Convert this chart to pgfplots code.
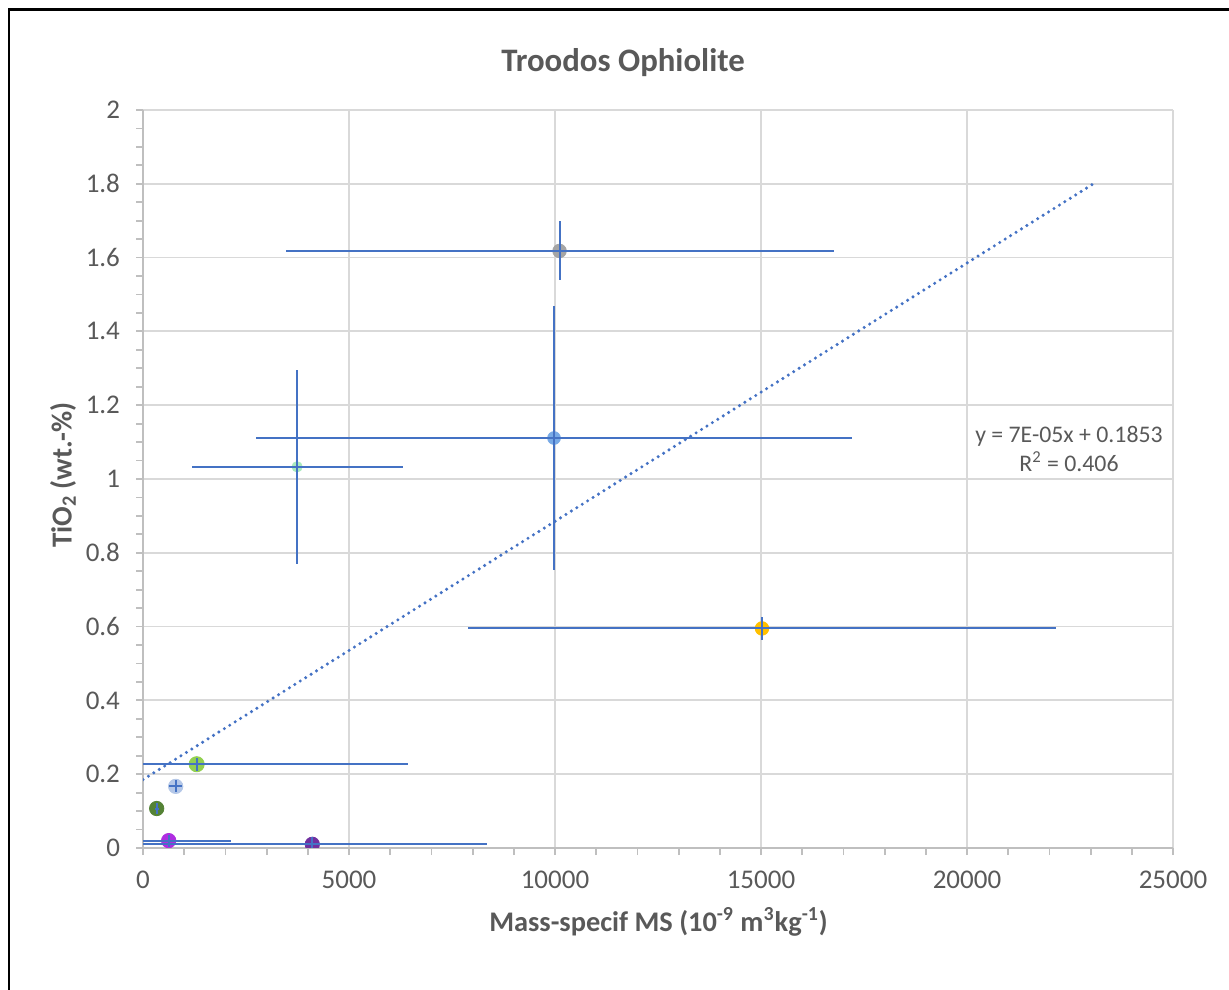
\documentclass[border=0pt]{standalone}
\usepackage{fontspec}
\setmainfont{Carlito}
\usepackage{pgfplots}
\pgfplotsset{compat=1.18}
\definecolor{txt}{RGB}{89,89,89}
\definecolor{gridc}{RGB}{217,217,217}
\definecolor{axc}{RGB}{191,191,191}
\definecolor{ebar}{RGB}{68,114,196}
\definecolor{cgrey}{RGB}{165,165,165}
\definecolor{clblue}{RGB}{120,170,230}
\definecolor{cpale}{RGB}{170,235,190}
\definecolor{cyellow}{RGB}{255,192,0}
\definecolor{clime}{RGB}{146,208,80}
\definecolor{csteel}{RGB}{180,199,231}
\definecolor{cdgreen}{RGB}{84,130,53}
\definecolor{cpurple}{RGB}{175,45,225}
\definecolor{cindigo}{RGB}{112,48,160}
\begin{document}
\begin{tikzpicture}
\useasboundingbox (0pt,0pt) rectangle (614.5pt,494.5pt);
\draw[line width=1.4pt] (4.5pt,-10pt) -- (4.5pt,489.8pt) -- (630pt,489.8pt);
\begin{axis}[
  at={(71.5pt,70.5pt)}, anchor=south west,
  scale only axis, width=515pt, height=369pt,
  xmin=0, xmax=25000, ymin=0, ymax=2,
  clip marker paths=true,
  xtick={0,5000,...,25000}, ytick={0,0.2,...,2.01},
  minor x tick num=4, minor y tick num=3,
  scaled x ticks=false, scaled y ticks=false,
  /pgf/number format/.cd, 1000 sep={}, assume math mode=true, /pgfplots/.cd,
  axis x line*=bottom, axis y line*=left,
  axis line style={draw=axc, line width=0.9pt, -},
  tick align=outside, major tick length=3.5pt, minor tick length=3.5pt,
  every tick/.style={draw=axc, line width=0.9pt},
  grid=major, major grid style={draw=gridc, line width=0.9pt},
  ticklabel style={font=\fontsize{13.5}{16}\selectfont, text=txt},
  xticklabel style={yshift=-4.5pt},
  yticklabel style={xshift=-4.5pt},
  every axis title shift=0pt,
  title={\textbf{Troodos Ophiolite}},
  title style={at={(axis description cs:0.466,1.064)}, anchor=center, font=\fontsize{16.4}{19}\selectfont, text=txt},
  xlabel={\textbf{Mass-specif MS (10\textsuperscript{-9} m\textsuperscript{3}kg\textsuperscript{-1})}},
  xlabel style={at={(axis description cs:0.5005,-0.100)}, anchor=center, font=\fontsize{14.2}{17}\selectfont, text=txt},
  ylabel={\textbf{TiO\textsubscript{2} (wt.-\%)}},
  ylabel style={at={(axis description cs:-0.0777,0.505)}, anchor=center, font=\fontsize{14.5}{17}\selectfont, text=txt},
]
% trendline
\addplot[ebar, line width=1.7pt, line cap=round, dash pattern=on 0pt off 3.2pt] coordinates {(0,0.1853) (23100,1.8023)};
% markers
\addplot[only marks, mark=*, mark size=3.4pt, color=cgrey] coordinates {(10110,1.618)};
\addplot[only marks, mark=*, mark size=3.2pt, color=clblue] coordinates {(9976,1.111)};
\addplot[only marks, mark=*, mark size=2.6pt, color=cpale] coordinates {(3740,1.033)};
\addplot[only marks, mark=*, mark size=3.4pt, color=cyellow] coordinates {(15024,0.595)};
\addplot[only marks, mark=*, mark size=3.8pt, color=clime] coordinates {(1303,0.227)};
\addplot[only marks, mark=*, mark size=3.6pt, color=csteel] coordinates {(793,0.167)};
\addplot[only marks, mark=*, mark size=3.6pt, color=cdgreen] coordinates {(332,0.107)};
\addplot[only marks, mark=*, mark size=3.6pt, color=cpurple] coordinates {(623,0.020)};
\addplot[only marks, mark=*, mark size=3.6pt, color=cindigo] coordinates {(4109,0.010)};
% error bars
\addplot[draw=none, mark=none,
  error bars/.cd, x dir=both, x explicit, y dir=both, y explicit,
  error mark=none, error bar style={draw=ebar, line width=1pt}]
  coordinates {
  (10110,1.618) +- (6650,0.08)
  (9976,1.111) +- (7233,0.358)
  (3740,1.033) +- (2560,0.263)
  (15024,0.595) +- (7136,0.03)
  (1303,0.227) +- (5122,0.017)
  (793,0.167) +- (160,0.016)
  (332,0.107) +- (50,0.015)
  (623,0.020) +- (1513,0.016)
  (4109,0.010) +- (4233,0.02)
  };
\node[font=\fontsize{11.9}{14.5}\selectfont, text=txt, align=center] at (axis description cs:0.899,0.541) {y = 7E-05x + 0.1853\\R\textsuperscript{2} = 0.406};
\end{axis}
\end{tikzpicture}
\end{document}
